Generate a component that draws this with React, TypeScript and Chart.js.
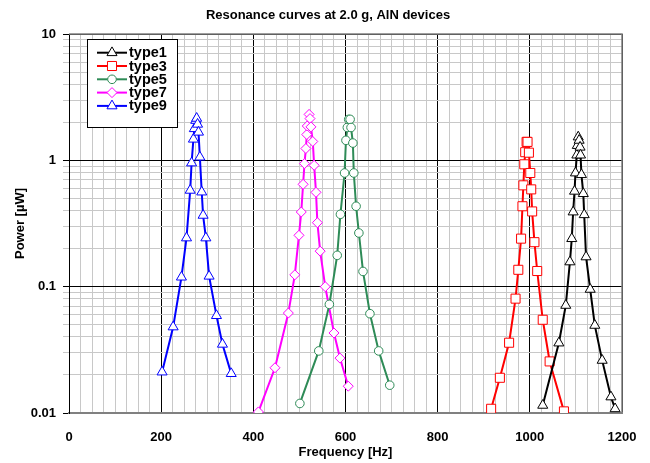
import React, { useEffect, useRef } from "react";
import { Chart, registerables } from "chart.js";

Chart.register(...registerables);

const TITLE = "Resonance curves at 2.0 g, AlN devices";
const X_TITLE = "Frequency [Hz]";
const Y_TITLE = "Power [µW]";

const xTickValues = Array.from({ length: 49 }, (_, i) => i * 25);
const yTickValues = [
  0.01, 0.02, 0.03, 0.04, 0.05, 0.06, 0.07, 0.08, 0.09,
  0.1, 0.2, 0.3, 0.4, 0.5, 0.6, 0.7, 0.8, 0.9,
  1, 2, 3, 4, 5, 6, 7, 8, 9, 10,
];

const type1X = [1028, 1063, 1078, 1087, 1091, 1094, 1097, 1099, 1102, 1103, 1105, 1107, 1109, 1110, 1112, 1116, 1118, 1122, 1131, 1141, 1157, 1176, 1185];
const type1Y = [0.0115, 0.0358, 0.0711, 0.157, 0.24, 0.39, 0.569, 0.794, 1.1, 1.31, 1.53, 1.44, 1.27, 1.1, 0.77, 0.545, 0.371, 0.172, 0.0952, 0.0494, 0.0261, 0.0134, 0.0108];

const type3X = [916, 935, 955, 969, 975, 981, 984, 986, 988, 990, 993, 995, 998, 1001, 1003, 1005, 1010, 1016, 1028, 1043, 1074];
const type3Y = [0.0108, 0.019, 0.036, 0.0804, 0.136, 0.24, 0.433, 0.634, 0.93, 1.16, 1.4, 1.4, 1.15, 0.794, 0.589, 0.394, 0.225, 0.133, 0.0547, 0.0256, 0.0103];

const type5X = [501, 542, 565, 582, 589, 598, 601, 604, 607, 610, 612, 616, 618, 623, 629, 638, 653, 672, 696];
const type5Y = [0.0119, 0.031, 0.0724, 0.177, 0.374, 0.794, 1.44, 1.82, 2.11, 2.11, 1.82, 1.37, 0.794, 0.433, 0.266, 0.132, 0.0611, 0.031, 0.0166];

const type7X = [411, 447, 476, 490, 499, 504, 508, 511, 514, 516, 517, 521, 523, 525, 529, 532, 536, 539, 545, 556, 575, 588, 606];
const type7Y = [0.0102, 0.0228, 0.0618, 0.124, 0.255, 0.39, 0.646, 0.942, 1.24, 1.6, 1.87, 2.31, 2.14, 1.84, 1.41, 0.913, 0.558, 0.321, 0.191, 0.1, 0.043, 0.0272, 0.0163];

const type9X = [202, 226, 244, 255, 263, 266, 270, 272, 275, 277, 279, 281, 284, 288, 291, 297, 304, 320, 333, 352];
const type9Y = [0.0211, 0.048, 0.119, 0.243, 0.579, 0.953, 1.47, 1.78, 2.07, 2.15, 1.93, 1.67, 1.06, 0.561, 0.367, 0.243, 0.121, 0.059, 0.035, 0.0205];

const FONT = "'Liberation Sans', Arial, sans-serif";

const zip = (xs: number[], ys: number[]) => xs.map((x, i) => ({ x, y: ys[i] }));

const isPow10 = (v: number) => Math.abs(Math.log10(v) - Math.round(Math.log10(v))) < 1e-9;

const seriesDefs = [
  { label: "type1", xs: type1X, ys: type1Y, color: "#000000", style: "triangle", radius: 5.8 },
  { label: "type3", xs: type3X, ys: type3Y, color: "#ff0000", style: "rect", radius: 6.4 },
  { label: "type5", xs: type5X, ys: type5Y, color: "#2e8b57", style: "circle", radius: 4.3 },
  { label: "type7", xs: type7X, ys: type7Y, color: "#ff00ff", style: "rectRot", radius: 5 },
  { label: "type9", xs: type9X, ys: type9Y, color: "#0000ff", style: "triangle", radius: 5.8 },
];

function drawMarker(ctx: CanvasRenderingContext2D, style: string, r: number, x: number, y: number) {
  ctx.beginPath();
  if (style === "triangle") {
    let rad = 0;
    ctx.moveTo(x + Math.sin(rad) * r, y - Math.cos(rad) * r);
    rad += (2 * Math.PI) / 3;
    ctx.lineTo(x + Math.sin(rad) * r, y - Math.cos(rad) * r);
    rad += (2 * Math.PI) / 3;
    ctx.lineTo(x + Math.sin(rad) * r, y - Math.cos(rad) * r);
    ctx.closePath();
  } else if (style === "rect") {
    const s = Math.SQRT1_2 * r;
    ctx.rect(x - s, y - s, 2 * s, 2 * s);
  } else if (style === "circle") {
    ctx.arc(x, y, r, 0, Math.PI * 2);
  } else if (style === "rectRot") {
    ctx.moveTo(x - r, y);
    ctx.lineTo(x, y - r);
    ctx.lineTo(x + r, y);
    ctx.lineTo(x, y + r);
    ctx.closePath();
  }
  ctx.fill();
  ctx.stroke();
}

const textPlugin = {
  id: "textPlugin",
  afterDraw(chart: any) {
    const ctx = chart.ctx;
    const a = chart.chartArea;
    ctx.save();
    ctx.strokeStyle = "#808080";
    ctx.lineWidth = 1.5;
    ctx.beginPath();
    ctx.moveTo(a.left, a.top);
    ctx.lineTo(a.right, a.top);
    ctx.lineTo(a.right, a.bottom);
    ctx.stroke();

    ctx.fillStyle = "#000";
    ctx.textAlign = "center";
    ctx.textBaseline = "middle";
    ctx.font = `bold 13px ${FONT}`;
    ctx.fillText(TITLE, 328, 15);
    ctx.fillText(X_TITLE, (a.left + a.right) / 2, 452);
    ctx.save();
    ctx.translate(20, (a.top + a.bottom) / 2);
    ctx.rotate(-Math.PI / 2);
    ctx.fillText(Y_TITLE, 0, 0);
    ctx.restore();

    const lx = 87, ly = 39, lw = 90, lh = 88;
    ctx.fillStyle = "#fff";
    ctx.fillRect(lx, ly, lw, lh);
    ctx.strokeStyle = "#000";
    ctx.lineWidth = 1;
    ctx.strokeRect(lx + 0.5, ly + 0.5, lw, lh);
    chart.data.datasets.forEach((ds: any, i: number) => {
      const y = 52.7 + i * 13.3;
      ctx.strokeStyle = ds.borderColor;
      ctx.lineWidth = 2;
      ctx.beginPath();
      ctx.moveTo(97, y);
      ctx.lineTo(127, y);
      ctx.stroke();
      ctx.lineWidth = 1;
      ctx.fillStyle = "#fff";
      ctx.strokeStyle = ds.borderColor;
      drawMarker(ctx, ds.pointStyle, ds.pointRadius, 112, y);
      ctx.fillStyle = "#000";
      ctx.textAlign = "left";
      ctx.font = `bold 14.5px ${FONT}`;
      ctx.fillText(ds.label, 129, y + 0.5);
    });
    ctx.restore();
  },
};

export default function App() {
  const ref = useRef<HTMLCanvasElement | null>(null);
  useEffect(() => {
    if (!ref.current) return;
    const chart = new Chart(ref.current, {
      type: "line",
      data: {
        datasets: seriesDefs.map((s) => ({
          label: s.label,
          data: zip(s.xs, s.ys),
          borderColor: s.color,
          backgroundColor: "#ffffff",
          pointBackgroundColor: "#ffffff",
          pointBorderColor: s.color,
          pointBorderWidth: 1,
          pointStyle: s.style as any,
          pointRadius: s.radius,
          borderWidth: 2,
          tension: 0,
          fill: false,
        })),
      },
      options: {
        animation: false,
        responsive: false,
        maintainAspectRatio: false,
        layout: { padding: { left: 0, right: 28, top: 34, bottom: 0 } },
        plugins: {
          legend: { display: false },
          title: { display: false },
          tooltip: { enabled: false },
        },
        scales: {
          x: {
            type: "linear",
            min: 0,
            max: 1200,
            afterBuildTicks: (scale: any) => {
              scale.ticks = xTickValues.map((v) => ({ value: v }));
            },
            afterFit: (scale: any) => {
              scale.height = 50;
              scale.paddingLeft = 0;
              scale.paddingRight = 0;
            },
            ticks: {
              autoSkip: false,
              maxRotation: 0,
              padding: 17,
              color: "#000",
              font: { family: FONT, size: 13, weight: "bold" },
              callback: (v: any) => (Number(v) % 200 === 0 ? String(v) : ""),
            },
            grid: {
              drawTicks: false,
              color: (c: any) => (c.tick && c.tick.value % 200 === 0 ? "#000000" : "#c8c8c8"),
            },
            border: { color: "#808080", width: 2 },
          },
          y: {
            type: "logarithmic",
            min: 0.01,
            max: 10,
            afterBuildTicks: (scale: any) => {
              scale.ticks = yTickValues.map((v) => ({ value: v, major: isPow10(v) }));
            },
            afterFit: (scale: any) => {
              scale.width = 69;
              scale.paddingTop = 0;
              scale.paddingBottom = 0;
            },
            ticks: {
              autoSkip: false,
              padding: 7,
              color: "#000",
              font: { family: FONT, size: 13, weight: "bold" },
              callback: (v: any) => {
                const n = Number(v);
                if (!isPow10(n)) return "";
                if (n >= 1) return String(Math.round(n));
                return String(Number(n.toPrecision(1)));
              },
            },
            grid: {
              drawTicks: true,
              tickLength: 6,
              color: (c: any) => (c.tick && isPow10(c.tick.value) ? "#000000" : "#c8c8c8"),
              tickColor: (c: any) => (c.tick && isPow10(c.tick.value) ? "#000000" : "#c8c8c8"),
            },
            border: { color: "#000000", width: 1 },
          },
        },
      } as any,
      plugins: [textPlugin],
    });
    return () => chart.destroy();
  }, []);
  return (
    <div style={{ position: "fixed", left: 0, top: 0, width: 650, height: 463, background: "#fff" }}>
      <canvas ref={ref} width={650} height={463} style={{ width: 650, height: 463 }} />
    </div>
  );
}
